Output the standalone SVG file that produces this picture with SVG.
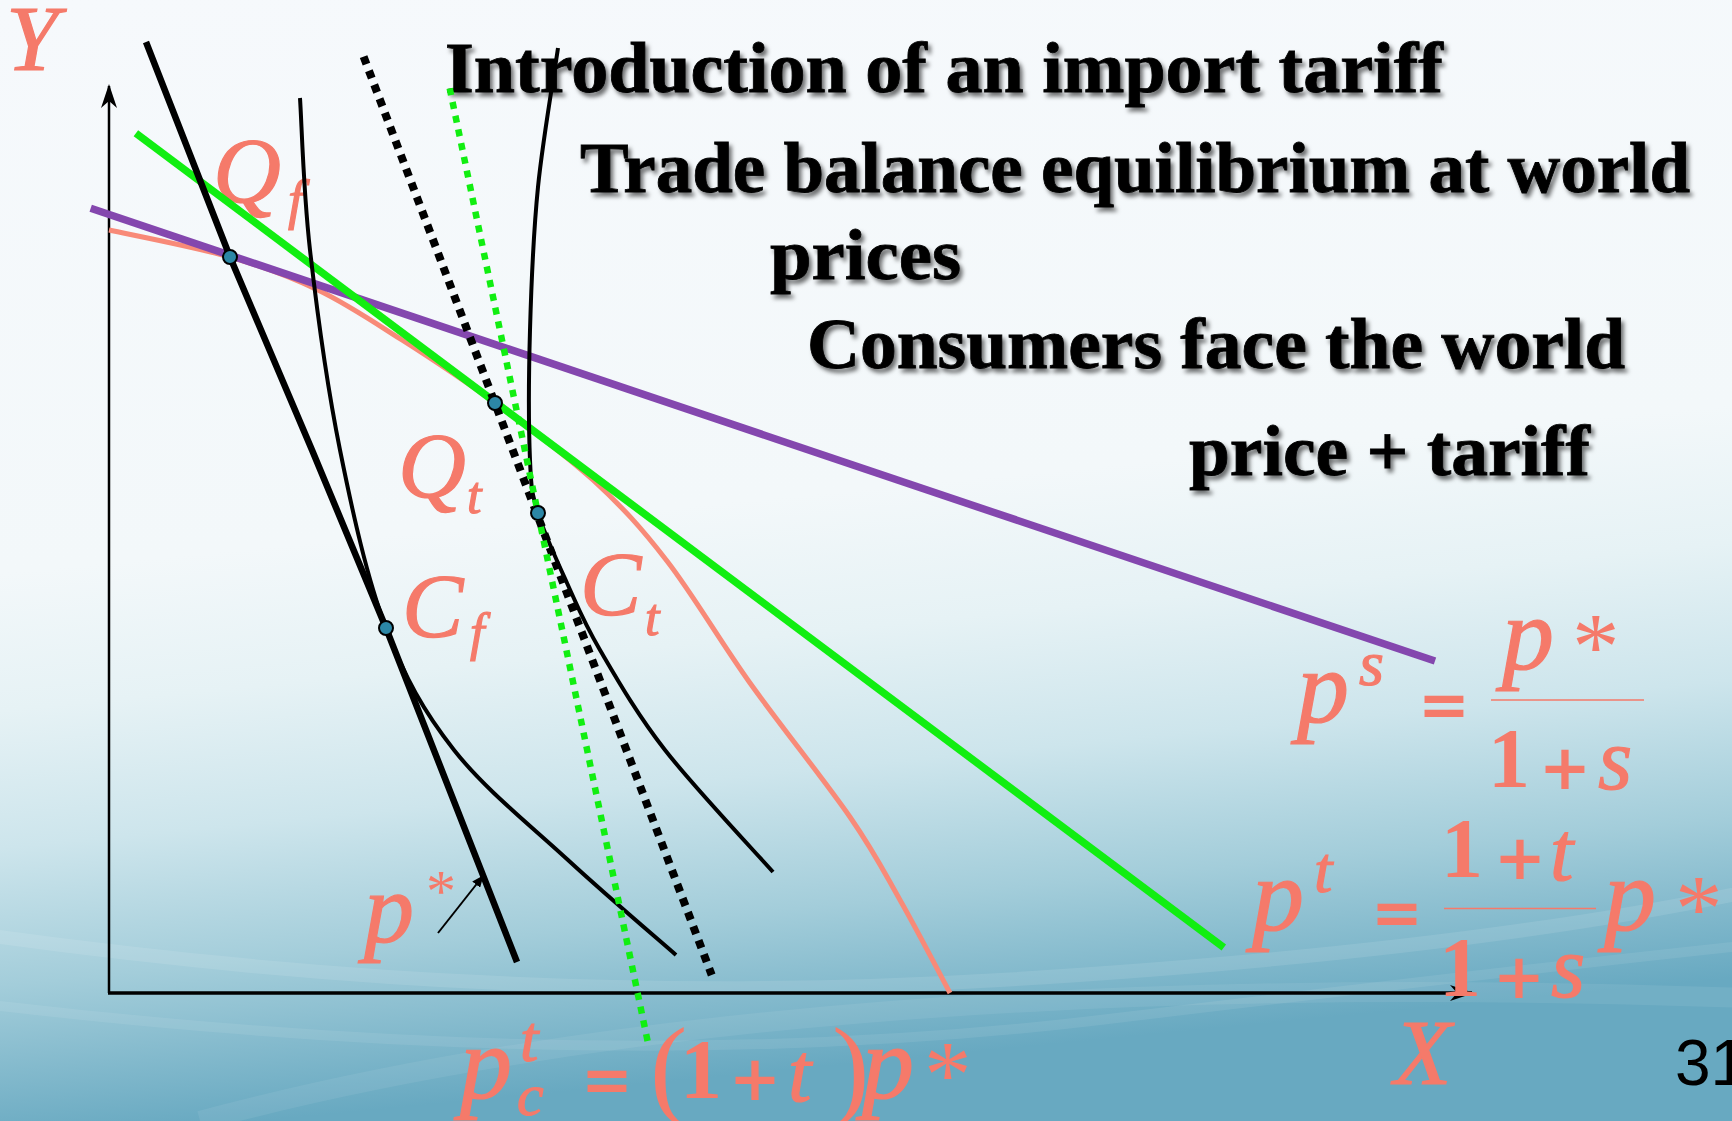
<svg xmlns="http://www.w3.org/2000/svg" width="1732" height="1121" viewBox="0 0 1732 1121">
<defs>
<linearGradient id="bg" x1="0" y1="0" x2="0.15" y2="1">
<stop offset="0" stop-color="#F6F9FC"/>
<stop offset="0.5" stop-color="#F3F8FA"/>
<stop offset="0.62" stop-color="#E6F2F5"/>
<stop offset="0.74" stop-color="#CDE5EC"/>
<stop offset="0.86" stop-color="#A3CDDA"/>
<stop offset="1" stop-color="#68A9C1"/>
</linearGradient>
<filter id="sh" x="-5%" y="-20%" width="110%" height="150%">
<feDropShadow dx="3" dy="4" stdDeviation="2" flood-color="#000" flood-opacity="0.55"/>
</filter>
<marker id="ax" viewBox="0 0 24 16" refX="22" refY="8" markerWidth="24" markerHeight="16" markerUnits="userSpaceOnUse" orient="auto">
<path d="M0,0 L24,8 L0,16 L7,8 Z" fill="#000"/>
</marker>
<marker id="ar" viewBox="0 0 12 10" refX="11" refY="5" markerWidth="12" markerHeight="10" markerUnits="userSpaceOnUse" orient="auto">
<path d="M0,0 L12,5 L0,10 Z" fill="#000"/>
</marker>
<style>
.title{font-family:"Liberation Serif",serif;font-weight:bold;font-size:72px;fill:#000;stroke:#000;stroke-width:0.8;filter:url(#sh)}
.m{font-family:"Liberation Serif",serif;font-style:italic;fill:#F57A6A;stroke:#F57A6A;stroke-width:1.2}
.u{font-family:"Liberation Serif",serif;fill:#F57A6A}
.op{font-family:"DejaVu Sans",sans-serif;font-weight:bold;fill:#F57A6A}
.frac{stroke:#F57A6A;stroke-width:1.6}
.thick{fill:none;stroke:#000;stroke-width:6.5;stroke-linejoin:round}
.thin{fill:none;stroke:#000;stroke-width:4;stroke-linejoin:round}
.dotk{fill:none;stroke:#000;stroke-width:8;stroke-dasharray:8 7}
.dotg{fill:none;stroke:#11EE11;stroke-width:6.5;stroke-dasharray:7 7}
.dot{fill:#2C87A6;stroke:#000;stroke-width:2}
</style>
</defs>
<rect id="background" width="1732" height="1121" fill="url(#bg)"/>
<g id="swooshes" fill="none" stroke="#FFFFFF">
<path d="M-50,930 Q500,1010 1000,980 T1800,880" stroke-width="14" stroke-opacity="0.10"/>
<path d="M-50,1000 Q600,1080 1100,1020 T1800,940" stroke-width="10" stroke-opacity="0.08"/>
<path d="M200,1121 Q800,960 1800,1000" stroke-width="20" stroke-opacity="0.07"/>
</g>

<g id="title-texts">
<text class="title" x="445" y="92" textLength="998" lengthAdjust="spacingAndGlyphs">Introduction of  an import tariff</text>
<text class="title" x="580" y="192" textLength="1110" lengthAdjust="spacingAndGlyphs">Trade balance equilibrium at world</text>
<text class="title" x="770" y="279" textLength="191" lengthAdjust="spacingAndGlyphs">prices</text>
<text class="title" x="807" y="368" textLength="818" lengthAdjust="spacingAndGlyphs">Consumers face the world</text>
<text class="title" x="1189" y="475" textLength="401" lengthAdjust="spacingAndGlyphs">price + tariff</text>
</g>

<g id="labels">
<g id="label-Qf"><text class="m" x="213" y="202" font-size="94">Q</text><text class="m" x="288" y="218" font-size="55">f</text></g>
<g id="label-Qt"><text class="m" x="398" y="497" font-size="94">Q</text><text class="m" x="467" y="513" font-size="52">t</text></g>
<g id="label-Cf"><text class="m" x="402" y="637" font-size="92">C</text><text class="m" x="470" y="650" font-size="52">f</text></g>
<g id="label-Ct"><text class="m" x="580" y="615" font-size="92">C</text><text class="m" x="645" y="635" font-size="52">t</text></g>
</g>

<g id="axes" fill="none" stroke="#000">
<line id="y-axis" x1="109" y1="993" x2="109" y2="86" stroke-width="2.5" marker-end="url(#ax)"/>
<line id="x-axis" x1="108" y1="993" x2="1472" y2="993" stroke-width="3.5" marker-end="url(#ax)"/>
</g>

<g id="connectors">
<path id="ppf" d="M109,230 C129.2,234.5 195.2,247 230,257 C264.8,267 289.3,276.2 318,290 C346.7,303.8 372.5,321.2 402,340 C431.5,358.8 463.2,379.7 495,403 C526.8,426.3 564.3,453.7 593,480 C621.7,506.3 640.8,527.2 667,561 C693.2,594.8 719.5,640.3 750,683 C780.5,725.7 825,780.8 850,817 C875,853.2 883.3,870.7 900,900 C916.7,929.3 941.7,977.5 950,993" fill="none" stroke="#F88A78" stroke-width="5"/>
<line id="purple-line" x1="90.7" y1="208.3" x2="1435" y2="661" stroke="#8447AE" stroke-width="7.5"/>
<line id="green-line" x1="135.9" y1="133.3" x2="1223.8" y2="947.5" stroke="#11EE11" stroke-width="7.5"/>
<path id="budget-pstar" class="thick" d="M146,42 L230,257 L312,450 L386,628 L517,962"/>
<path id="indiff-f" class="thin" d="M300,98 C301.7,123.3 303.3,191.3 310,250 C316.7,308.7 327.3,387 340,450 C352.7,513 367,578 386,628 C405,678 423.7,711.3 454,750 C484.3,788.7 531,825.8 568,860 C605,894.2 658,939.2 676,955"/>
<path id="indiff-t" class="thin" d="M558,48 C554.7,71.2 542.7,140 538,187 C533.3,234 531.3,284.5 530,330 C528.7,375.5 528.7,429.5 530,460 C531.3,490.5 531.8,492.5 538,513 C544.2,533.5 556.7,560.2 567,583 C577.3,605.8 583.7,622.2 600,650 C616.3,677.8 636.2,713 665,750 C693.8,787 755,851.7 773,872"/>
<line id="dotted-black" class="dotk" x1="363.6" y1="56.7" x2="711.7" y2="975"/>
<line id="dotted-green" class="dotg" x1="449.7" y1="88.3" x2="648" y2="1043"/>
<line id="pstar-pointer" x1="438" y1="933" x2="483" y2="876" stroke="#000" stroke-width="2" marker-end="url(#ar)"/>
</g>

<g id="nodes">
<circle id="node-Qf" class="dot" cx="230" cy="257" r="7"/>
<circle id="node-Qt" class="dot" cx="495" cy="403" r="7"/>
<circle id="node-Ct" class="dot" cx="538" cy="513" r="7"/>
<circle id="node-Cf" class="dot" cx="386" cy="628" r="7"/>
</g>

<g id="axis-labels">
<text class="m" x="6" y="70" font-size="94">Y</text>
<text class="m" x="1394" y="1084" font-size="94">X</text>
</g>

<g id="label-pstar">
<text class="m" x="364" y="942" font-size="100">p</text>
<text class="u" x="426" y="911" font-size="60">*</text>
</g>

<g id="formula-ps">
<text class="m" x="1297" y="722" font-size="104">p</text>
<text class="m" x="1359" y="685" font-size="64">s</text>
<text class="op" x="1418" y="726" font-size="62">=</text>
<line class="frac" x1="1491" y1="700" x2="1644" y2="700"/>
<text class="m" x="1502" y="669" font-size="104">p</text>
<text class="u" x="1572" y="679" font-size="95">*</text>
<text class="u" x="1488" y="787" font-size="84" font-weight="bold">1</text>
<text class="op" x="1539" y="789" font-size="62">+</text>
<text class="m" x="1598" y="789" font-size="88">s</text>
</g>

<g id="formula-pt">
<text class="m" x="1252" y="930" font-size="104">p</text>
<text class="m" x="1314" y="892" font-size="66">t</text>
<text class="op" x="1371" y="934" font-size="62">=</text>
<line class="frac" x1="1444" y1="908.5" x2="1596" y2="908.5"/>
<text class="u" x="1441" y="877" font-size="84" font-weight="bold">1</text>
<text class="op" x="1494" y="879" font-size="62">+</text>
<text class="m" x="1550" y="880" font-size="84">t</text>
<text class="u" x="1439" y="996" font-size="84" font-weight="bold">1</text>
<text class="op" x="1493" y="998" font-size="62">+</text>
<text class="m" x="1551" y="997" font-size="88">s</text>
<text class="m" x="1604" y="930" font-size="104">p</text>
<text class="u" x="1675" y="941" font-size="95">*</text>
</g>

<g id="formula-pct">
<text class="m" x="460" y="1098" font-size="104">p</text>
<text class="m" x="520" y="1061" font-size="66">t</text>
<text class="m" x="517" y="1115" font-size="60">c</text>
<text class="op" x="581" y="1101" font-size="62">=</text>
<text class="u" x="650" y="1105" font-size="112">(</text>
<text class="u" x="680" y="1098" font-size="84" font-weight="bold">1</text>
<text class="op" x="729" y="1100" font-size="62">+</text>
<text class="m" x="788" y="1101" font-size="84">t</text>
<text class="u" x="832" y="1105" font-size="112">)</text>
<text class="m" x="862" y="1098" font-size="104">p</text>
<text class="u" x="924" y="1107" font-size="95">*</text>
</g>

<text id="page-number" x="1675" y="1085" font-family="Liberation Sans, sans-serif" font-size="64" fill="#000">31</text>
</svg>
